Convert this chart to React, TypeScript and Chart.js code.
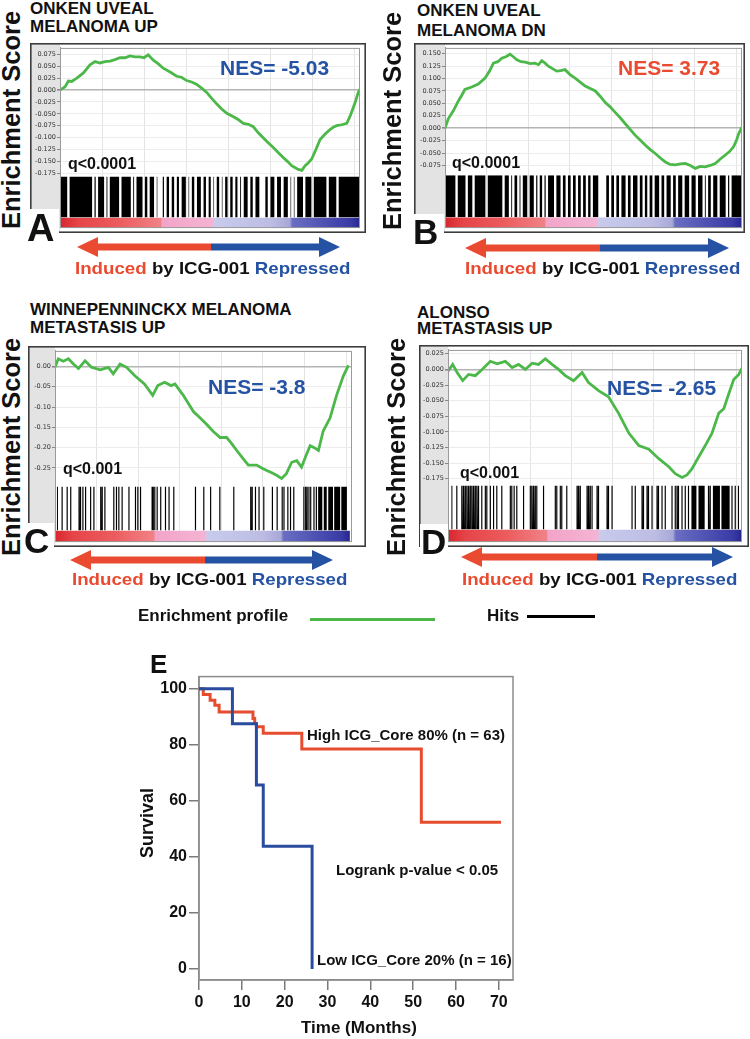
import React, { useEffect, useRef } from 'react';
import { Chart, registerables } from 'chart.js';
Chart.register(...registerables);

type Pt = [number, number];

// ================= DATA =================
// x grid of the GSEA plots (rank in list, % of list)
const rankGrid = [0, 14, 28, 42, 56, 70, 84, 98];

// Running enrichment score curves: [rank %, ES]
const esA: Pt[] = [
  [0, 0.0], [1.7, 0.007], [2.8, 0.019], [3.9, 0.018], [5.6, 0.025], [7.8, 0.036], [10, 0.053], [11.7, 0.06],
  [13.3, 0.057], [15, 0.06], [16.7, 0.061], [18.3, 0.064], [20, 0.068], [21.7, 0.068], [23.3, 0.072], [25, 0.07],
  [26.7, 0.07], [28, 0.068], [29.4, 0.074], [31.1, 0.063], [32.8, 0.055], [34.4, 0.046], [36.7, 0.038], [38.9, 0.029],
  [40.5, 0.027], [42.2, 0.02], [43.9, 0.017], [45.6, 0.012], [47.2, 0.004], [48.9, -0.005], [50.5, -0.017], [52.2, -0.029],
  [53.9, -0.04], [55.6, -0.049], [57.8, -0.056], [59.4, -0.062], [61.1, -0.07], [62.8, -0.072], [64.4, -0.077], [66.1, -0.09],
  [67.8, -0.101], [69.4, -0.111], [71.1, -0.121], [72.8, -0.132], [74.4, -0.142], [75.8, -0.15], [77.2, -0.159], [78.3, -0.163],
  [79.4, -0.167], [80.6, -0.169], [81.7, -0.159], [82.8, -0.153], [83.9, -0.145], [85.3, -0.125], [86.7, -0.104], [88.3, -0.093],
  [90, -0.083], [91.1, -0.078], [92.2, -0.075], [93.9, -0.073], [95.6, -0.07], [96.7, -0.055], [97.8, -0.036], [98.6, -0.022],
  [99.4, -0.005], [100, 0.002],
];
const esB: Pt[] = [
  [0, 0.0], [1.1, 0.019], [2.8, 0.035], [4.5, 0.055], [5.6, 0.066], [6.7, 0.078], [9, 0.083], [11.2, 0.089],
  [13.5, 0.101], [15, 0.115], [16.3, 0.131], [17.8, 0.134], [19.1, 0.141], [20.5, 0.144], [21.9, 0.149], [23, 0.144],
  [24.2, 0.138], [25.6, 0.134], [27, 0.133], [28.7, 0.13], [30.3, 0.131], [31.5, 0.128], [32.6, 0.136], [33.7, 0.131],
  [34.8, 0.125], [36.2, 0.12], [37.6, 0.115], [39, 0.116], [40.4, 0.118], [42.1, 0.108], [43.8, 0.101], [45.5, 0.093],
  [47.2, 0.085], [48.9, 0.08], [50.6, 0.075], [52.3, 0.064], [53.9, 0.052], [55.6, 0.043], [57.3, 0.032], [59, 0.021],
  [60.7, 0.009], [62.4, -0.003], [64, -0.014], [65.7, -0.024], [67.4, -0.034], [69.1, -0.043], [70.8, -0.051], [72.5, -0.06],
  [74.2, -0.068], [75.8, -0.073], [77.5, -0.074], [79.2, -0.072], [80.9, -0.071], [82.6, -0.075], [84.3, -0.081], [85.9, -0.077],
  [87.6, -0.078], [89.3, -0.075], [91, -0.071], [92.7, -0.062], [94.4, -0.054], [95.8, -0.047], [97.2, -0.037], [98.1, -0.025],
  [98.9, -0.011], [100, 0.002],
];
const esC: Pt[] = [
  [0, -0.002], [1.1, 0.019], [2.8, 0.013], [4.5, 0.019], [6.2, 0.006], [7.9, -0.005], [10.1, 0.014], [12.3, -0.002],
  [15.2, -0.008], [18, -0.002], [19.6, -0.018], [21.9, 0.006], [24.1, -0.002], [26.8, -0.022], [30.1, -0.043], [32.9, -0.071],
  [34.6, -0.047], [36.9, -0.039], [39.1, -0.047], [40.4, -0.043], [43.2, -0.071], [46.6, -0.111], [48.9, -0.127], [51.1, -0.143],
  [53.3, -0.16], [55.6, -0.175], [57.8, -0.175], [59.5, -0.19], [61.2, -0.207], [63.2, -0.226], [65.1, -0.243], [67.9, -0.243],
  [69.6, -0.25], [71.3, -0.256], [73, -0.262], [74.6, -0.268], [76.3, -0.276], [77.9, -0.264], [79.7, -0.236], [81.4, -0.232],
  [83, -0.248], [84.5, -0.22], [85.9, -0.195], [87.3, -0.2], [88.7, -0.207], [90.3, -0.159], [92.6, -0.127], [94.8, -0.071],
  [97.1, -0.023], [98.8, 0.003],
];
const esD: Pt[] = [
  [0, -0.003], [1.6, 0.008], [3.1, -0.005], [5, -0.018], [7, -0.008], [9.3, -0.01], [11.6, 0.0], [14.4, 0.013],
  [16.7, 0.009], [19.5, 0.013], [21.8, 0.003], [24, 0.008], [26.3, 0.0], [28.6, 0.01], [30.8, 0.008], [33.1, 0.017],
  [35.4, 0.008], [37.6, 0.0], [39.9, -0.01], [42.7, -0.018], [45.6, -0.005], [47.8, -0.021], [51.2, -0.034], [54.6, -0.044],
  [56.3, -0.057], [58, -0.07], [61.5, -0.102], [64.9, -0.122], [68.3, -0.128], [71.7, -0.143], [75.1, -0.156], [77.3, -0.167],
  [79.6, -0.173], [81.3, -0.169], [83, -0.159], [85.3, -0.14], [87.5, -0.122], [89.8, -0.102], [92.1, -0.07], [93.8, -0.063],
  [95.5, -0.039], [97.2, -0.016], [98.9, -0.008], [100, 0.002],
];

const yTicksA = [0.075, 0.05, 0.025, 0, -0.025, -0.05, -0.075, -0.1, -0.125, -0.15, -0.175];
const yTicksB = [0.15, 0.125, 0.1, 0.075, 0.05, 0.025, 0, -0.025, -0.05, -0.075];
const yTicksC = [0, -0.05, -0.1, -0.15, -0.2, -0.25];
const yTicksD = [0.025, 0, -0.025, -0.05, -0.075, -0.1, -0.125, -0.15, -0.175];

// A and B are nearly saturated with hits: ranks of the gaps [position, width]
const gapsA: Pt[] = [
  [2.8, 0.8], [11.1, 0.8], [12.3, 0.8], [15.1, 0.8], [16.2, 0.8], [20.1, 0.8], [24, 0.8], [25.1, 0.8], [27.9, 0.8],
  [29.5, 0.8], [31.8, 0.9], [32.9, 0.9], [33.8, 0.9], [35.1, 0.9], [36.8, 0.9], [38.5, 0.9], [40.1, 0.9], [42.4, 0.9],
  [43.5, 0.9], [45.2, 0.9], [47.4, 0.9], [49.1, 0.9], [50.7, 0.9], [51.8, 0.9], [53.5, 0.9], [54.6, 0.9], [56.3, 0.9],
  [58, 0.9], [59.6, 0.9], [60.8, 0.9], [63, 0.9], [64.7, 0.9], [66.9, 0.9], [68, 0.9], [69.7, 0.9], [71.9, 0.9],
  [74.1, 0.9], [76.4, 0.9], [77.5, 0.9], [78.6, 0.9], [81.4, 0.8], [84.2, 0.8], [89.2, 0.8], [92.5, 0.8],
];
const gapsB: Pt[] = [
  [3.9, 0.8], [7.3, 0.8], [9.6, 0.8], [14, 0.8], [19.7, 0.8], [21.9, 0.8], [23, 0.8], [24.7, 0.8], [25.8, 0.8],
  [28.1, 0.8], [30.3, 0.8], [31.5, 0.8], [33.1, 0.8], [34.3, 0.8], [37.1, 0.8], [39.3, 0.8], [41, 0.8], [42.7, 0.8],
  [44.4, 0.8], [46.1, 0.8], [47.8, 0.8], [49.4, 0.8], [52.5, 1.8], [53.9, 0.8], [55.6, 0.8], [57.3, 0.8], [59, 0.8],
  [61.2, 0.8], [62.9, 0.8], [65.2, 0.8], [66.9, 0.8], [68.5, 0.8], [70.2, 0.8], [72.5, 0.8], [74.2, 0.8], [76.4, 0.8],
  [78.1, 0.8], [80.3, 0.8], [82.6, 0.8], [84.8, 0.8], [87.1, 0.8], [88.2, 0.8], [89.9, 0.8], [92.1, 0.8], [94.9, 0.8],
  [96.1, 0.8],
];
// C and D: individual hit ranks plus dense hit blocks
const hitsC = [
  0.6, 2.2, 3.9, 5.1, 7.9, 8.4, 9.2, 10.1, 11.8, 12.9, 15.2, 15.7, 16.6, 19.6, 20.5, 21.3, 22.4, 24.7, 26.9, 27.7,
  28.6, 32.5, 32.9, 33.4, 34.2, 35.4, 37.0, 38.2, 39.8, 47.1, 49.9, 52.2, 55.3, 60.0, 65.7, 66.2, 67.3, 68.5, 70.1,
  73.0, 74.6, 76.3, 76.9, 78.2, 79.1, 80.2, 83.6, 84.2, 84.7, 85.3, 85.9, 87.0, 87.8,
];
const hitBlocksC: Pt[] = [[88.6, 90.0], [90.5, 91.5], [92.0, 93.6], [94.0, 96.0], [96.4, 98.3]];
const hitsD = [
  1.1, 2.8, 4.5, 5.1, 5.7, 6.2, 6.8, 7.4, 7.9, 8.5, 9.1, 9.6, 10.2, 11.3, 12.5, 13.0, 14.2, 15.3, 16.4, 18.1, 21.0,
  21.5, 22.3, 23.2, 25.5, 27.8, 28.3, 28.9, 29.5, 30.0, 32.3, 36.3, 36.8, 38.0, 38.5, 40.2, 43.7, 44.2, 44.8, 47.1,
  47.6, 48.2, 48.8, 50.5, 51.0, 53.9, 54.4, 55.6, 62.4, 63.5, 65.8, 66.3, 67.5, 68.0, 69.2, 70.9, 71.4, 72.6, 73.7,
  76.0, 77.1, 77.7, 78.2, 79.4, 80.5, 81.6, 88.4, 89.0, 96.4, 97.5, 98.6,
];
const hitBlocksD: Pt[] = [[82.8, 84.5], [85.2, 87.3], [90.1, 92.5], [93.0, 95.8]];

// ranked-list colour bar stops [fraction, colour]
const barStops: [number, string][] = [
  [0, '#d6262d'], [0.06, '#e64448'], [0.2, '#ec5c5e'], [0.335, '#f08286'], [0.34, '#f2a4c8'], [0.51, '#f4b4d4'],
  [0.515, '#c8cbec'], [0.7, '#bdbde4'], [0.765, '#a8a8d9'], [0.775, '#6a6ec2'], [0.9, '#4a4cb0'], [0.97, '#3a3aa6'],
  [1, '#24268c'],
];

const titleA = ['ONKEN UVEAL', 'MELANOMA UP'];
const titleB = ['ONKEN UVEAL', 'MELANOMA DN'];
const titleC = ['WINNEPENNINCKX MELANOMA', 'METASTASIS UP'];
const titleD = ['ALONSO', 'METASTASIS UP'];
const nesA = 'NES= -5.03';
const nesB = 'NES= 3.73';
const nesC = 'NES= -3.8';
const nesD = 'NES= -2.65';
const qA = 'q<0.0001';
const qB = 'q<0.0001';
const qC = 'q<0.001';
const qD = 'q<0.001';

// Kaplan-Meier: [months, survival %]
const kmHigh: Pt[] = [
  [0, 100], [1.0, 97.9], [2.6, 95.9], [3.7, 94.1], [4.7, 91.7], [12.6, 89.4], [13.0, 87.6], [13.4, 86.4],
  [15.0, 84.1], [24.0, 78.5], [51.9, 52.4], [70.5, 52.4],
];
const kmLow: Pt[] = [[0, 100], [7.8, 87.5], [13.4, 65.6], [15.0, 43.8], [26.4, 0]];
const kmXTicks = [0, 10, 20, 30, 40, 50, 60, 70];
const kmYTicks = [0, 20, 40, 60, 80, 100];

// ================= STYLE / LAYOUT =================
const FONT = '"Liberation Sans", Arial, Helvetica, sans-serif';
const GREEN = '#4cb84a';
const RED = '#ea4a2f';
const BLUE = '#2552a2';
const KM_RED = '#e64d2f';
const KM_BLUE = '#2a4c9e';

function gapsToBlocks(gaps: Pt[], end = 100): Pt[] {
  const out: Pt[] = [];
  let s = 0;
  [...gaps].sort((a, b) => a[0] - b[0]).forEach(([p, w]) => {
    out.push([s, p - w / 2]);
    s = p + w / 2;
  });
  out.push([s, end]);
  return out;
}
function linesAndBlocks(lines: number[], blocks: Pt[]): Pt[] {
  const out: Pt[] = lines.map((p) => [p, p + 0.4] as Pt).concat(blocks);
  return out.sort((a, b) => a[0] - b[0]);
}
function hitPoints(iv: Pt[]) {
  const pts: { x: number; y: number }[] = [];
  iv.forEach(([s, e]) => {
    pts.push({ x: s, y: 0 }, { x: s, y: 1 }, { x: e, y: 1 }, { x: e, y: 0 });
  });
  return pts;
}

interface PanelCfg {
  es: Pt[];
  yTicks: number[];
  dec: number;
  yMin: number;
  yMax: number;
  hits: Pt[];
  barEnd: number;
  left: number;
  top: number;
  w: number;
  h: number;
  axisW: number;
  padR: number;
  padT: number;
  padB: number;
  weights: [number, number, number];
}

const panels: PanelCfg[] = [
  { es: esA, yTicks: yTicksA, dec: 3, yMin: -0.1818, yMax: 0.0887, hits: gapsToBlocks(gapsA), barEnd: 100,
    left: 30, top: 43, w: 336, h: 190, axisW: 30, padR: 6, padT: 3, padB: 1, weights: [132, 42, 11] },
  { es: esB, yTicks: yTicksB, dec: 3, yMin: -0.0947, yMax: 0.1618, hits: gapsToBlocks(gapsB), barEnd: 100,
    left: 414, top: 43, w: 331, h: 190, axisW: 31, padR: 3, padT: 3, padB: 3, weights: [130, 43, 11] },
  { es: esC, yTicks: yTicksC, dec: 2, yMin: -0.2957, yMax: 0.0385, hits: linesAndBlocks(hitsC, hitBlocksC), barEnd: 99.3,
    left: 28, top: 346, w: 338, h: 201, axisW: 27, padR: 14, padT: 2, padB: 3, weights: [139, 45, 12] },
  { es: esD, yTicks: yTicksD, dec: 3, yMin: -0.186, yMax: 0.03125, hits: linesAndBlocks(hitsD, hitBlocksD), barEnd: 100,
    left: 419, top: 345, w: 330, h: 202, axisW: 29, padR: 7, padT: 3, padB: 2, weights: [139, 45, 13] },
];

const panelFrame = {
  id: 'panelFrame',
  beforeDraw(chart: any) {
    const { ctx, width, height, chartArea: a } = chart;
    ctx.save();
    ctx.fillStyle = '#ffffff';
    ctx.fillRect(0, 0, width, height);
    ctx.fillStyle = '#e3e3e3';
    ctx.fillRect(0, 0, a.left, height);
    ctx.restore();
  },
  afterDraw(chart: any) {
    const { ctx, width, height, chartArea: a } = chart;
    ctx.save();
    ctx.strokeStyle = '#9a9a9a';
    ctx.lineWidth = 1;
    ctx.strokeRect(a.left + 0.5, a.top + 0.5, a.right - a.left - 1, a.bottom - a.top - 1);
    ctx.strokeStyle = '#3c3c3c';
    ctx.lineWidth = 1.6;
    ctx.strokeRect(0.8, 0.8, width - 1.6, height - 1.6);
    ctx.restore();
  },
};

function GseaPanel({ cfg }: { cfg: PanelCfg }) {
  const ref = useRef<HTMLCanvasElement>(null);
  useEffect(() => {
    const c = ref.current!;
    const chart = new Chart(c, {
      type: 'line',
      data: {
        datasets: [
          {
            label: 'Enrichment profile',
            data: cfg.es.map(([x, y]) => ({ x, y })),
            yAxisID: 'y',
            borderColor: GREEN,
            borderWidth: 2.8,
            pointRadius: 0,
            fill: false,
            tension: 0,
          },
          {
            label: 'Hits',
            data: hitPoints(cfg.hits),
            yAxisID: 'yHits',
            borderColor: 'rgba(0,0,0,0)',
            borderWidth: 0,
            backgroundColor: '#000000',
            pointRadius: 0,
            fill: 'origin',
            tension: 0,
          },
          {
            label: 'Ranked list',
            data: [{ x: 0, y: 1 }, { x: cfg.barEnd, y: 1 }],
            yAxisID: 'yBar',
            borderColor: 'rgba(0,0,0,0)',
            borderWidth: 0,
            pointRadius: 0,
            fill: 'origin',
            backgroundColor: (ctx: any) => {
              const ch = ctx.chart;
              const xs = ch.scales.x;
              if (!xs || !ch.chartArea) return '#cccccc';
              const g = ch.ctx.createLinearGradient(xs.getPixelForValue(0), 0, xs.getPixelForValue(cfg.barEnd), 0);
              barStops.forEach(([f, col]) => g.addColorStop(f, col));
              return g;
            },
          },
        ] as any,
      },
      options: {
        animation: false,
        responsive: false,
        maintainAspectRatio: false,
        events: [],
        layout: { autoPadding: false, padding: { left: 0, right: cfg.padR, top: cfg.padT, bottom: cfg.padB } } as any,
        plugins: { legend: { display: false }, tooltip: { enabled: false } },
        scales: {
          x: {
            type: 'linear',
            position: 'bottom',
            min: 0,
            max: 100,
            afterBuildTicks: (ax: any) => {
              ax.ticks = rankGrid.map((v) => ({ value: v }));
            },
            afterFit: (s: any) => {
              s.height = 0;
            },
            ticks: { display: false },
            grid: { color: '#e4e4e4', drawTicks: false, lineWidth: 1 },
            border: { display: false },
          },
          y: {
            type: 'linear',
            position: 'left',
            stack: 'gsea',
            stackWeight: cfg.weights[0],
            weight: 3,
            min: cfg.yMin,
            max: cfg.yMax,
            afterBuildTicks: (ax: any) => {
              ax.ticks = cfg.yTicks.map((v) => ({ value: v }));
            },
            afterFit: (s: any) => {
              s.width = cfg.axisW;
            },
            ticks: {
              autoSkip: false,
              font: { family: '"DejaVu Sans", sans-serif', size: 6.5 },
              color: '#333333',
              padding: 1,
              callback: (v: any) => Number(v).toFixed(cfg.dec),
            },
            grid: {
              color: (ctx: any) => (ctx.tick && Math.abs(ctx.tick.value) < 1e-9 ? '#b4b4b4' : '#ececec'),
              lineWidth: (ctx: any) => (ctx.tick && Math.abs(ctx.tick.value) < 1e-9 ? 1.6 : 1),
              drawTicks: true,
              tickLength: 3,
              tickColor: '#888888',
            },
            border: { display: true, color: '#9a9a9a' },
          },
          yHits: {
            type: 'linear',
            position: 'left',
            stack: 'gsea',
            stackWeight: cfg.weights[1],
            weight: 2,
            min: 0,
            max: 1,
            afterFit: (s: any) => {
              s.width = cfg.axisW;
            },
            ticks: { display: false },
            grid: { display: false, drawTicks: false },
            border: { display: false },
          },
          yBar: {
            type: 'linear',
            position: 'left',
            stack: 'gsea',
            stackWeight: cfg.weights[2],
            weight: 1,
            min: 0,
            max: 1,
            afterFit: (s: any) => {
              s.width = cfg.axisW;
            },
            ticks: { display: false },
            grid: { display: false, drawTicks: false },
            border: { display: false },
          },
        } as any,
      },
      plugins: [panelFrame],
    });
    return () => chart.destroy();
  }, [cfg]);
  return (
    <canvas
      ref={ref}
      width={cfg.w}
      height={cfg.h}
      style={{ position: 'absolute', left: cfg.left, top: cfg.top, width: cfg.w, height: cfg.h }}
    />
  );
}

const kmFrame = {
  id: 'kmFrame',
  beforeDatasetsDraw(chart: any) {
    const { ctx, chartArea: a } = chart;
    ctx.save();
    ctx.strokeStyle = '#8c8c8c';
    ctx.lineWidth = 1.5;
    ctx.strokeRect(a.left, a.top, a.right - a.left, a.bottom - a.top);
    ctx.restore();
  },
};

function KMChart() {
  const ref = useRef<HTMLCanvasElement>(null);
  useEffect(() => {
    const c = ref.current!;
    const tickFont = { family: FONT, size: 16, weight: 'bold' as const };
    const chart = new Chart(c, {
      type: 'line',
      data: {
        datasets: [
          {
            label: 'Low ICG_Core 20% (n = 16)',
            data: kmLow.map(([x, y]) => ({ x, y })),
            borderColor: KM_BLUE,
            borderWidth: 3,
            pointRadius: 0,
            stepped: 'before',
            fill: false,
          },
          {
            label: 'High ICG_Core 80% (n = 63)',
            data: kmHigh.map(([x, y]) => ({ x, y })),
            borderColor: KM_RED,
            borderWidth: 3,
            pointRadius: 0,
            stepped: 'before',
            fill: false,
          },
        ] as any,
      },
      options: {
        animation: false,
        responsive: false,
        maintainAspectRatio: false,
        events: [],
        layout: { autoPadding: false, padding: { left: 0, right: 17, top: 10, bottom: 0 } } as any,
        plugins: { legend: { display: false }, tooltip: { enabled: false } },
        scales: {
          x: {
            type: 'linear',
            min: 0,
            max: 73.3,
            afterBuildTicks: (ax: any) => {
              ax.ticks = kmXTicks.map((v) => ({ value: v }));
            },
            afterFit: (s: any) => {
              s.height = 59;
            },
            ticks: { font: tickFont, color: '#111111', padding: 3, maxRotation: 0, autoSkip: false },
            grid: { drawOnChartArea: false, drawTicks: true, tickLength: 10, color: '#7a7a7a', lineWidth: 1.5 },
            border: { display: true, color: '#8c8c8c', width: 1.5 },
          },
          y: {
            type: 'linear',
            min: -3.9,
            max: 104.3,
            afterBuildTicks: (ax: any) => {
              ax.ticks = kmYTicks.map((v) => ({ value: v }));
            },
            afterFit: (s: any) => {
              s.width = 59;
            },
            ticks: { font: tickFont, color: '#111111', padding: 2, autoSkip: false },
            grid: { drawOnChartArea: false, drawTicks: true, tickLength: 10, color: '#7a7a7a', lineWidth: 1.5 },
            border: { display: true, color: '#8c8c8c', width: 1.5 },
          },
        } as any,
      },
      plugins: [kmFrame],
    });
    return () => chart.destroy();
  }, []);
  return (
    <canvas
      ref={ref}
      width={390}
      height={374}
      style={{ position: 'absolute', left: 140, top: 665, width: 390, height: 374 }}
    />
  );
}

function Txt(props: {
  x: number; y: number; size: number; children: React.ReactNode; color?: string; sx?: number; bg?: string;
}) {
  const { x, y, size, children, color = '#111111', sx = 1, bg } = props;
  return (
    <div
      style={{
        position: 'absolute',
        left: x,
        top: y - 0.13 * size,
        fontFamily: FONT,
        fontSize: size,
        fontWeight: 'bold',
        lineHeight: 1,
        color,
        whiteSpace: 'nowrap',
        background: bg,
        transform: sx !== 1 ? `scaleX(${sx})` : undefined,
        transformOrigin: 'left top',
      }}
    >
      {children}
    </div>
  );
}

function RotTxt({ cx, cy, size, children }: { cx: number; cy: number; size: number; children: React.ReactNode }) {
  return (
    <div
      style={{
        position: 'absolute',
        left: cx,
        top: cy,
        fontFamily: FONT,
        fontSize: size,
        fontWeight: 'bold',
        lineHeight: 1,
        color: '#111111',
        whiteSpace: 'nowrap',
        transform: 'translate(-50%, -50%) rotate(-90deg)',
      }}
    >
      {children}
    </div>
  );
}

function Letter({ x, y, w, h, size, ch }: { x: number; y: number; w: number; h: number; size: number; ch: string }) {
  return (
    <div style={{ position: 'absolute', left: x, top: y, width: w, height: h, background: '#ffffff' }}>
      <div
        style={{
          position: 'absolute',
          left: 1,
          top: h - size * 0.85 - 1,
          fontFamily: FONT,
          fontSize: size,
          fontWeight: 'bold',
          lineHeight: 1,
          color: '#111111',
        }}
      >
        {ch}
      </div>
    </div>
  );
}

function arrowPolys(xL: number, xM: number, xR: number, cy: number) {
  const st = 3.5;
  const hh = 10;
  const hl = 21;
  const left = [
    [xL, cy], [xL + hl, cy - hh], [xL + hl, cy - st], [xM, cy - st], [xM, cy + st], [xL + hl, cy + st], [xL + hl, cy + hh],
  ];
  const right = [
    [xR, cy], [xR - hl, cy - hh], [xR - hl, cy - st], [xM, cy - st], [xM, cy + st], [xR - hl, cy + st], [xR - hl, cy + hh],
  ];
  const s = (p: number[][]) => p.map((q) => q.join(',')).join(' ');
  return (
    <g>
      <polygon points={s(left)} fill={RED} />
      <polygon points={s(right)} fill={BLUE} />
    </g>
  );
}

function ArrowLabel({ x, y }: { x: number; y: number }) {
  return (
    <Txt x={x} y={y} size={17} sx={1.1}>
      <span style={{ color: RED }}>Induced</span> by ICG-001 <span style={{ color: BLUE }}>Repressed</span>
    </Txt>
  );
}

export default function App() {
  return (
    <div
      style={{
        position: 'absolute',
        left: 0,
        top: 0,
        width: 750,
        height: 1039,
        background: '#ffffff',
        overflow: 'hidden',
      }}
    >
      {panels.map((p, i) => (
        <GseaPanel key={i} cfg={p} />
      ))}

      {/* titles */}
      <Txt x={30} y={2} size={17}>{titleA[0]}</Txt>
      <Txt x={30} y={20.5} size={17}>{titleA[1]}</Txt>
      <Txt x={417} y={4} size={17}>{titleB[0]}</Txt>
      <Txt x={417} y={24.5} size={17}>{titleB[1]}</Txt>
      <Txt x={30} y={303} size={17}>{titleC[0]}</Txt>
      <Txt x={30} y={321} size={17}>{titleC[1]}</Txt>
      <Txt x={417} y={306} size={17}>{titleD[0]}</Txt>
      <Txt x={417} y={322} size={17}>{titleD[1]}</Txt>

      {/* NES + q */}
      <Txt x={220} y={60} size={21} color={BLUE}>{nesA}</Txt>
      <Txt x={618} y={60} size={21} color={RED}>{nesB}</Txt>
      <Txt x={208} y={379} size={21} color={BLUE}>{nesC}</Txt>
      <Txt x={607} y={380} size={21} color={BLUE}>{nesD}</Txt>
      <Txt x={68} y={158} size={16}>{qA}</Txt>
      <Txt x={452} y={157} size={16}>{qB}</Txt>
      <Txt x={63} y={463} size={16}>{qC}</Txt>
      <Txt x={460} y={467} size={16}>{qD}</Txt>

      {/* y-axis titles */}
      <RotTxt cx={12} cy={120} size={25.5}>Enrichment Score</RotTxt>
      <RotTxt cx={393} cy={121} size={25.5}>Enrichment Score</RotTxt>
      <RotTxt cx={12} cy={447} size={25.5}>Enrichment Score</RotTxt>
      <RotTxt cx={397} cy={447} size={25.5}>Enrichment Score</RotTxt>

      {/* panel letters */}
      <Letter x={26} y={209} w={33} h={33} size={38} ch="A" />
      <Letter x={412} y={214} w={32} h={31} size={35} ch="B" />
      <Letter x={23} y={523} w={31} h={31} size={35} ch="C" />
      <Letter x={420} y={524} w={28} h={31} size={35} ch="D" />

      {/* arrows */}
      <svg width={750} height={1039} style={{ position: 'absolute', left: 0, top: 0 }}>
        {arrowPolys(77, 211, 340, 247)}
        {arrowPolys(465, 600, 729, 248)}
        {arrowPolys(70, 205, 333, 560)}
        {arrowPolys(461, 597, 733, 557)}
      </svg>
      <ArrowLabel x={75} y={262} />
      <ArrowLabel x={465} y={262} />
      <ArrowLabel x={72} y={573} />
      <ArrowLabel x={462} y={573} />

      {/* legend */}
      <Txt x={138} y={609} size={17}>Enrichment profile</Txt>
      <div style={{ position: 'absolute', left: 310, top: 617.5, width: 125, height: 3, background: GREEN }} />
      <Txt x={487} y={609} size={17}>Hits</Txt>
      <div style={{ position: 'absolute', left: 527, top: 614.5, width: 68, height: 3, background: '#000' }} />

      {/* KM */}
      <KMChart />
      <Txt x={150} y={654} size={26}>E</Txt>
      <RotTxt cx={147} cy={823} size={18}>Survival</RotTxt>
      <Txt x={301} y={1021} size={17}>Time (Months)</Txt>
      <Txt x={307} y={729} size={15}>High ICG_Core 80% (n = 63)</Txt>
      <Txt x={336} y={864} size={15}>Logrank p-value &lt; 0.05</Txt>
      <Txt x={317} y={954} size={15}>Low ICG_Core 20% (n = 16)</Txt>
    </div>
  );
}
